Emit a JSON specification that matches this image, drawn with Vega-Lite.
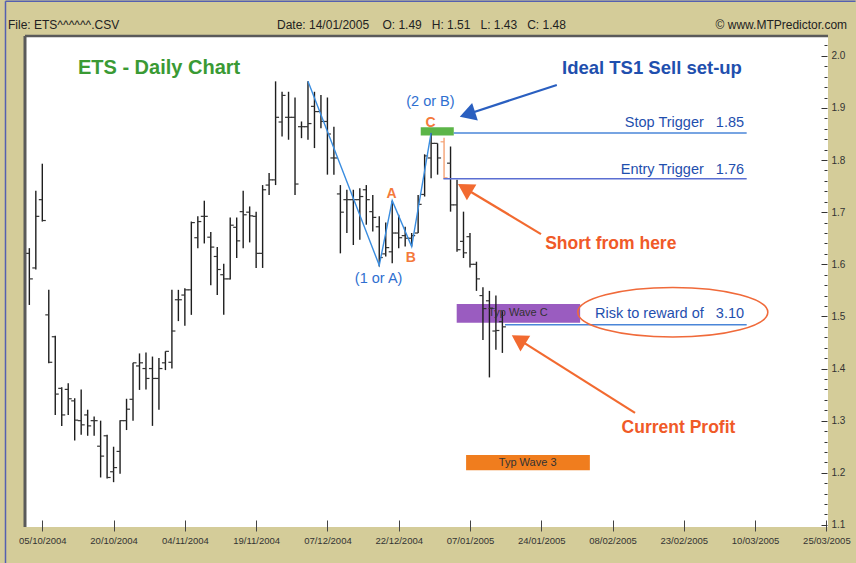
{
  "$schema": "https://vega.github.io/schema/vega-lite/v6.json",
  "width": 803,
  "height": 491,
  "autosize": {"type": "none"},
  "padding": {"left": 25, "top": 36, "right": 28, "bottom": 36},
  "background": "#d4cc99",
  "config": {
    "view": {"fill": "#ffffff", "stroke": null},
    "font": "Liberation Sans",
    "text": {"font": "Liberation Sans", "baseline": "middle"}
  },
  "resolve": {"scale": {"color": "independent"}},
  "datasets": {
    "bars": [
      {"i":-2,"d":"01/10/2004","o":1.621,"h":1.631,"l":1.522,"c":1.572},
      {"i":-1,"d":"04/10/2004","o":1.593,"h":1.741,"l":1.590,"c":1.692},
      {"i":0,"d":"05/10/2004","o":1.724,"h":1.793,"l":1.682,"c":1.684},
      {"i":1,"d":"06/10/2004","o":1.503,"h":1.551,"l":1.410,"c":1.412},
      {"i":2,"d":"07/10/2004","o":1.461,"h":1.463,"l":1.311,"c":1.351},
      {"i":3,"d":"08/10/2004","o":1.362,"h":1.364,"l":1.290,"c":1.311},
      {"i":4,"d":"11/10/2004","o":1.360,"h":1.372,"l":1.311,"c":1.342},
      {"i":5,"d":"12/10/2004","o":1.338,"h":1.343,"l":1.262,"c":1.301},
      {"i":6,"d":"13/10/2004","o":1.300,"h":1.360,"l":1.273,"c":1.292},
      {"i":7,"d":"14/10/2004","o":1.311,"h":1.321,"l":1.271,"c":1.290},
      {"i":8,"d":"15/10/2004","o":1.300,"h":1.308,"l":1.271,"c":1.300},
      {"i":9,"d":"18/10/2004","o":1.251,"h":1.300,"l":1.191,"c":1.232},
      {"i":10,"d":"19/10/2004","o":1.271,"h":1.273,"l":1.189,"c":1.191},
      {"i":11,"d":"20/10/2004","o":1.202,"h":1.250,"l":1.182,"c":1.210},
      {"i":12,"d":"21/10/2004","o":1.241,"h":1.301,"l":1.198,"c":1.300},
      {"i":13,"d":"22/10/2004","o":1.300,"h":1.342,"l":1.282,"c":1.322},
      {"i":14,"d":"25/10/2004","o":1.341,"h":1.411,"l":1.300,"c":1.411},
      {"i":15,"d":"26/10/2004","o":1.405,"h":1.429,"l":1.359,"c":1.411},
      {"i":16,"d":"27/10/2004","o":1.400,"h":1.431,"l":1.360,"c":1.381},
      {"i":17,"d":"28/10/2004","o":1.400,"h":1.423,"l":1.290,"c":1.381},
      {"i":18,"d":"29/10/2004","o":1.381,"h":1.420,"l":1.321,"c":1.400},
      {"i":19,"d":"01/11/2004","o":1.411,"h":1.433,"l":1.397,"c":1.433},
      {"i":20,"d":"02/11/2004","o":1.412,"h":1.551,"l":1.400,"c":1.472},
      {"i":21,"d":"03/11/2004","o":1.532,"h":1.551,"l":1.491,"c":1.532},
      {"i":22,"d":"04/11/2004","o":1.541,"h":1.554,"l":1.482,"c":1.551},
      {"i":23,"d":"05/11/2004","o":1.551,"h":1.682,"l":1.503,"c":1.680},
      {"i":24,"d":"08/11/2004","o":1.651,"h":1.692,"l":1.631,"c":1.682},
      {"i":25,"d":"09/11/2004","o":1.692,"h":1.722,"l":1.640,"c":1.692},
      {"i":26,"d":"10/11/2004","o":1.652,"h":1.662,"l":1.560,"c":1.633},
      {"i":27,"d":"11/11/2004","o":1.615,"h":1.633,"l":1.541,"c":1.590},
      {"i":28,"d":"12/11/2004","o":1.580,"h":1.601,"l":1.503,"c":1.572},
      {"i":29,"d":"15/11/2004","o":1.572,"h":1.690,"l":1.571,"c":1.675},
      {"i":30,"d":"16/11/2004","o":1.671,"h":1.690,"l":1.612,"c":1.645},
      {"i":31,"d":"17/11/2004","o":1.701,"h":1.741,"l":1.631,"c":1.695},
      {"i":32,"d":"18/11/2004","o":1.700,"h":1.711,"l":1.642,"c":1.693},
      {"i":33,"d":"19/11/2004","o":1.692,"h":1.701,"l":1.593,"c":1.621},
      {"i":34,"d":"22/11/2004","o":1.621,"h":1.752,"l":1.593,"c":1.743},
      {"i":35,"d":"23/11/2004","o":1.752,"h":1.775,"l":1.733,"c":1.762},
      {"i":36,"d":"24/11/2004","o":1.762,"h":1.951,"l":1.752,"c":1.882},
      {"i":37,"d":"26/11/2004","o":1.873,"h":1.931,"l":1.845,"c":1.924},
      {"i":38,"d":"29/11/2004","o":1.882,"h":1.931,"l":1.839,"c":1.882},
      {"i":39,"d":"30/11/2004","o":1.882,"h":1.920,"l":1.733,"c":1.754},
      {"i":40,"d":"01/12/2004","o":1.864,"h":1.874,"l":1.842,"c":1.864},
      {"i":41,"d":"02/12/2004","o":1.864,"h":1.951,"l":1.839,"c":1.870},
      {"i":42,"d":"03/12/2004","o":1.903,"h":1.931,"l":1.823,"c":1.893},
      {"i":43,"d":"06/12/2004","o":1.893,"h":1.925,"l":1.861,"c":1.874},
      {"i":44,"d":"07/12/2004","o":1.874,"h":1.920,"l":1.772,"c":1.850},
      {"i":45,"d":"08/12/2004","o":1.804,"h":1.864,"l":1.772,"c":1.804},
      {"i":46,"d":"09/12/2004","o":1.735,"h":1.752,"l":1.621,"c":1.700},
      {"i":47,"d":"10/12/2004","o":1.724,"h":1.743,"l":1.660,"c":1.724},
      {"i":48,"d":"13/12/2004","o":1.724,"h":1.743,"l":1.637,"c":1.724},
      {"i":49,"d":"14/12/2004","o":1.724,"h":1.746,"l":1.647,"c":1.730},
      {"i":50,"d":"15/12/2004","o":1.743,"h":1.752,"l":1.676,"c":1.724},
      {"i":51,"d":"16/12/2004","o":1.701,"h":1.733,"l":1.663,"c":1.690},
      {"i":52,"d":"17/12/2004","o":1.672,"h":1.692,"l":1.596,"c":1.613},
      {"i":53,"d":"20/12/2004","o":1.620,"h":1.680,"l":1.615,"c":1.632},
      {"i":54,"d":"21/12/2004","o":1.624,"h":1.722,"l":1.602,"c":1.660},
      {"i":55,"d":"22/12/2004","o":1.660,"h":1.695,"l":1.631,"c":1.651},
      {"i":56,"d":"23/12/2004","o":1.655,"h":1.672,"l":1.634,"c":1.650},
      {"i":57,"d":"27/12/2004","o":1.650,"h":1.660,"l":1.634,"c":1.655},
      {"i":58,"d":"28/12/2004","o":1.660,"h":1.733,"l":1.660,"c":1.715},
      {"i":59,"d":"29/12/2004","o":1.734,"h":1.811,"l":1.730,"c":1.808},
      {"i":60,"d":"30/12/2004","o":1.804,"h":1.852,"l":1.765,"c":1.832},
      {"i":61,"d":"31/12/2004","o":1.832,"h":1.832,"l":1.772,"c":1.804},
      {"i":62,"d":"03/01/2005","o":1.835,"h":1.843,"l":1.764,"c":1.766,"hl":1},
      {"i":63,"d":"04/01/2005","o":1.794,"h":1.826,"l":1.701,"c":1.714},
      {"i":64,"d":"05/01/2005","o":1.714,"h":1.762,"l":1.624,"c":1.628},
      {"i":65,"d":"06/01/2005","o":1.644,"h":1.701,"l":1.612,"c":1.622},
      {"i":66,"d":"07/01/2005","o":1.653,"h":1.660,"l":1.594,"c":1.600},
      {"i":67,"d":"10/01/2005","o":1.600,"h":1.605,"l":1.549,"c":1.572},
      {"i":68,"d":"11/01/2005","o":1.540,"h":1.556,"l":1.455,"c":1.515},
      {"i":69,"d":"12/01/2005","o":1.530,"h":1.549,"l":1.383,"c":1.516},
      {"i":70,"d":"13/01/2005","o":1.472,"h":1.540,"l":1.436,"c":1.473},
      {"i":71,"d":"14/01/2005","o":1.49,"h":1.51,"l":1.43,"c":1.48}
    ],
    "zig": [
      {"k":0,"i":41,"p":1.951},
      {"k":1,"i":52,"p":1.598},
      {"k":2,"i":54,"p":1.722},
      {"k":3,"i":57,"p":1.634},
      {"k":4,"i":60,"p":1.852}
    ],
    "boxes": [
      {"n":"wavec","i":63.95,"i2":83,"p":1.488,"p2":1.524},
      {"n":"wave3","i":65.4,"i2":84.5,"p":1.205,"p2":1.234},
      {"n":"c","i":58.4,"i2":63.5,"p":1.847,"p2":1.863}
    ],
    "levels": [
      {"n":"stop","i":63.5,"i2":108.7,"p":1.852},
      {"n":"entry","i":61.9,"i2":108.7,"p":1.764},
      {"n":"risk","i":71.4,"i2":108.7,"p":1.484}
    ],
    "arrows": [
      {"n":"blue","i":79.4,"p":1.944,"i2":65.6,"p2":1.888},
      {"n":"short","i":76.96,"p":1.658,"i2":65.2,"p2":1.746},
      {"n":"profit","i":91.47,"p":1.315,"i2":73.5,"p2":1.456}
    ],
    "ell": [{"i":97.3,"p":1.508}],
    "frame": [{"i":-2.67,"p":2.038}],
    "outer": [{"i":-5.68,"i2":125.5,"p":2.1046,"p2":1.027}],
    "txt": [
      {"g":"title","t":"ETS - Daily Chart","i":5.5,"p":1.977},
      {"g":"ideal","t":"Ideal TS1 Sell set-up","i":80.2,"p":1.976},
      {"g":"wave","t":"(2 or B)","i":59.9,"p":1.911},
      {"g":"wave","t":"(1 or A)","i":51.9,"p":1.571},
      {"g":"abc","t":"C","i":59.9,"p":1.872},
      {"g":"abc","t":"A","i":53.9,"p":1.735},
      {"g":"abc","t":"B","i":56.85,"p":1.612},
      {"g":"trig","t":"Stop Trigger \u00a0 1.85","i":108.3,"p":1.871},
      {"g":"trig","t":"Entry Trigger \u00a0 1.76","i":108.3,"p":1.781},
      {"g":"trig","t":"Risk to reward of \u00a0 3.10","i":108.3,"p":1.505},
      {"g":"call","t":"Short from here","i":77.6,"p":1.639},
      {"g":"call","t":"Current Profit","i":89.4,"p":1.286},
      {"g":"box","t":"Typ Wave C","i":73.4,"p":1.507},
      {"g":"box","t":"Typ Wave 3","i":74.9,"p":1.219},
      {"g":"hdrl","t":"File: ETS^^^^^^.CSV","i":-5.29,"p":2.059},
      {"g":"hdrl","t":"Date: 14/01/2005 \u00a0 \u00a0O: 1.49 \u00a0 H: 1.51 \u00a0 L: 1.43 \u00a0 C: 1.48","i":36.22,"p":2.059},
      {"g":"hdrr","t":"\u00a9 www.MTPredictor.com","i":124.2,"p":2.059}
    ]
  },
  "layer": [
    {
      "data": {"name": "boxes"},
      "mark": {"type": "rect"},
      "encoding": {
        "x": {"field": "i", "type": "quantitative", "scale": {"domain": [-2.67, 121.25], "nice": false, "zero": false},
          "axis": {
            "orient": "bottom", "title": null, "grid": false, "domain": false,
            "values": [0, 11, 22, 33, 44, 55, 66, 77, 88, 99, 110, 121], "tickCount": 200,
            "labelExpr": "['05/10/2004','20/10/2004','04/11/2004','19/11/2004','07/12/2004','22/12/2004','07/01/2005','24/01/2005','08/02/2005','23/02/2005','10/03/2005','25/03/2005'][round(datum.value/11)]",
            "offset": -7, "tickSize": 11, "tickColor": "#444", "tickWidth": 1,
            "labelPadding": 4, "labelFont": "Liberation Sans", "labelFontSize": 9.5, "labelColor": "#333",
            "labelFlush": false, "labelOverlap": false
          }
        },
        "x2": {"field": "i2"},
        "y": {"field": "p", "type": "quantitative", "scale": {"domain": [1.096, 2.038], "nice": false, "zero": false},
          "axis": {
            "orient": "right", "title": null, "grid": false, "domain": false,
            "values": [1.1,1.12,1.14,1.16,1.18,1.2,1.22,1.24,1.26,1.28,1.3,1.32,1.34,1.36,1.38,1.4,1.42,1.44,1.46,1.48,1.5,1.52,1.54,1.56,1.58,1.6,1.62,1.64,1.66,1.68,1.7,1.72,1.74,1.76,1.78,1.8,1.82,1.84,1.86,1.88,1.9,1.92,1.94,1.96,1.98,2.0,2.02],
            "tickCount": 200,
            "labelExpr": "abs(datum.value*10 - round(datum.value*10)) < 0.01 ? format(datum.value, '.1f') : ''",
            "tickSize": {"condition": {"test": "abs(datum.value*10 - round(datum.value*10)) < 0.01", "value": -6}, "value": -3},
            "offset": -1, "tickColor": "#333", "tickWidth": 1,
            "labelPadding": 10, "labelFont": "Liberation Sans", "labelFontSize": 10, "labelColor": "#333",
            "labelFlush": false, "labelOverlap": false, "labelBaseline": "middle"
          }
        },
        "y2": {"field": "p2"},
        "color": {"field": "n", "type": "nominal", "scale": {"domain": ["wavec", "wave3", "c"], "range": ["#9a5cc0", "#f07d1e", "#5cb548"]}, "legend": null}
      }
    },
    {
      "data": {"name": "bars"},
      "mark": {"type": "rule", "strokeWidth": 1.4},
      "encoding": {
        "x": {"field": "i", "type": "quantitative", "scale": {"domain": [-2.67, 121.25], "nice": false, "zero": false}},
        "y": {"field": "l", "type": "quantitative", "scale": {"domain": [1.096, 2.038], "nice": false, "zero": false}},
        "y2": {"field": "h"},
        "color": {"condition": {"test": "datum.hl === 1", "value": "#f5a274"}, "value": "#1e1e1e"}
      }
    },
    {
      "data": {"name": "bars"},
      "mark": {"type": "rule", "strokeWidth": 1.2, "x2Offset": -3.5},
      "encoding": {
        "x": {"field": "i", "type": "quantitative", "scale": {"domain": [-2.67, 121.25], "nice": false, "zero": false}},
        "x2": {"field": "i"},
        "y": {"field": "o", "type": "quantitative", "scale": {"domain": [1.096, 2.038], "nice": false, "zero": false}},
        "color": {"condition": {"test": "datum.hl === 1", "value": "#f5a274"}, "value": "#333333"}
      }
    },
    {
      "data": {"name": "bars"},
      "mark": {"type": "rule", "strokeWidth": 1.2, "x2Offset": 3.5},
      "encoding": {
        "x": {"field": "i", "type": "quantitative", "scale": {"domain": [-2.67, 121.25], "nice": false, "zero": false}},
        "x2": {"field": "i"},
        "y": {"field": "c", "type": "quantitative", "scale": {"domain": [1.096, 2.038], "nice": false, "zero": false}},
        "color": {"condition": {"test": "datum.hl === 1", "value": "#f5a274"}, "value": "#333333"}
      }
    },
    {
      "data": {"name": "zig"},
      "mark": {"type": "line", "strokeWidth": 1.4, "color": "#3a8de0"},
      "encoding": {
        "x": {"field": "i", "type": "quantitative", "scale": {"domain": [-2.67, 121.25], "nice": false, "zero": false}},
        "y": {"field": "p", "type": "quantitative", "scale": {"domain": [1.096, 2.038], "nice": false, "zero": false}},
        "order": {"field": "k"}
      }
    },
    {
      "data": {"name": "levels"},
      "mark": {"type": "rule", "strokeWidth": 1.5},
      "encoding": {
        "x": {"field": "i", "type": "quantitative", "scale": {"domain": [-2.67, 121.25], "nice": false, "zero": false}},
        "x2": {"field": "i2"},
        "y": {"field": "p", "type": "quantitative", "scale": {"domain": [1.096, 2.038], "nice": false, "zero": false}},
        "color": {"field": "n", "type": "nominal", "scale": {"domain": ["stop", "entry", "risk"], "range": ["#4a86d8", "#5a6ed2", "#4a86d8"]}, "legend": null}
      }
    },
    {
      "data": {"name": "arrows"},
      "mark": {"type": "rule", "strokeWidth": 2.2},
      "encoding": {
        "x": {"field": "i", "type": "quantitative", "scale": {"domain": [-2.67, 121.25], "nice": false, "zero": false}},
        "x2": {"field": "i2"},
        "y": {"field": "p", "type": "quantitative", "scale": {"domain": [1.096, 2.038], "nice": false, "zero": false}},
        "y2": {"field": "p2"},
        "color": {"field": "n", "type": "nominal", "scale": {"domain": ["blue", "short", "profit"], "range": ["#2a5fc0", "#f26a30", "#f26a30"]}, "legend": null}
      }
    },
    {
      "data": {"name": "arrows"},
      "transform": [{"filter": "datum.n === 'blue'"}],
      "mark": {"type": "point", "shape": "triangle-up", "filled": true, "size": 340, "angle": 252, "color": "#2a5fc0", "opacity": 1},
      "encoding": {
        "x": {"field": "i2", "type": "quantitative", "scale": {"domain": [-2.67, 121.25], "nice": false, "zero": false}},
        "y": {"field": "p2", "type": "quantitative", "scale": {"domain": [1.096, 2.038], "nice": false, "zero": false}}
      }
    },
    {
      "data": {"name": "arrows"},
      "transform": [{"filter": "datum.n === 'short'"}],
      "mark": {"type": "point", "shape": "triangle-up", "filled": true, "size": 340, "angle": 301, "color": "#f26a30", "opacity": 1},
      "encoding": {
        "x": {"field": "i2", "type": "quantitative", "scale": {"domain": [-2.67, 121.25], "nice": false, "zero": false}},
        "y": {"field": "p2", "type": "quantitative", "scale": {"domain": [1.096, 2.038], "nice": false, "zero": false}}
      }
    },
    {
      "data": {"name": "arrows"},
      "transform": [{"filter": "datum.n === 'profit'"}],
      "mark": {"type": "point", "shape": "triangle-up", "filled": true, "size": 340, "angle": 302, "color": "#f26a30", "opacity": 1},
      "encoding": {
        "x": {"field": "i2", "type": "quantitative", "scale": {"domain": [-2.67, 121.25], "nice": false, "zero": false}},
        "y": {"field": "p2", "type": "quantitative", "scale": {"domain": [1.096, 2.038], "nice": false, "zero": false}}
      }
    },
    {
      "data": {"name": "ell"},
      "mark": {"type": "point", "shape": "M-1,0A1,0.261,0,1,1,1,0A1,0.261,0,1,1,-1,0Z", "size": 36100, "filled": false, "stroke": "#f06a3a", "strokeWidth": 1.6, "opacity": 1},
      "encoding": {
        "x": {"field": "i", "type": "quantitative", "scale": {"domain": [-2.67, 121.25], "nice": false, "zero": false}},
        "y": {"field": "p", "type": "quantitative", "scale": {"domain": [1.096, 2.038], "nice": false, "zero": false}}
      }
    },
    {
      "data": {"name": "txt"},
      "transform": [{"filter": "datum.g === 'title'"}],
      "mark": {"type": "text", "align": "left", "fontSize": 20, "fontWeight": "bold", "color": "#3a9a34"},
      "encoding": {
        "x": {"field": "i", "type": "quantitative", "scale": {"domain": [-2.67, 121.25], "nice": false, "zero": false}},
        "y": {"field": "p", "type": "quantitative", "scale": {"domain": [1.096, 2.038], "nice": false, "zero": false}},
        "text": {"field": "t"}
      }
    },
    {
      "data": {"name": "txt"},
      "transform": [{"filter": "datum.g === 'ideal'"}],
      "mark": {"type": "text", "align": "left", "fontSize": 18.5, "fontWeight": "bold", "color": "#1f4fae"},
      "encoding": {
        "x": {"field": "i", "type": "quantitative", "scale": {"domain": [-2.67, 121.25], "nice": false, "zero": false}},
        "y": {"field": "p", "type": "quantitative", "scale": {"domain": [1.096, 2.038], "nice": false, "zero": false}},
        "text": {"field": "t"}
      }
    },
    {
      "data": {"name": "txt"},
      "transform": [{"filter": "datum.g === 'wave'"}],
      "mark": {"type": "text", "align": "center", "fontSize": 14.5, "color": "#2f6fd0"},
      "encoding": {
        "x": {"field": "i", "type": "quantitative", "scale": {"domain": [-2.67, 121.25], "nice": false, "zero": false}},
        "y": {"field": "p", "type": "quantitative", "scale": {"domain": [1.096, 2.038], "nice": false, "zero": false}},
        "text": {"field": "t"}
      }
    },
    {
      "data": {"name": "txt"},
      "transform": [{"filter": "datum.g === 'abc'"}],
      "mark": {"type": "text", "align": "center", "fontSize": 14, "fontWeight": "bold", "color": "#f4793b"},
      "encoding": {
        "x": {"field": "i", "type": "quantitative", "scale": {"domain": [-2.67, 121.25], "nice": false, "zero": false}},
        "y": {"field": "p", "type": "quantitative", "scale": {"domain": [1.096, 2.038], "nice": false, "zero": false}},
        "text": {"field": "t"}
      }
    },
    {
      "data": {"name": "txt"},
      "transform": [{"filter": "datum.g === 'trig'"}],
      "mark": {"type": "text", "align": "right", "fontSize": 14.5, "color": "#1f4fae"},
      "encoding": {
        "x": {"field": "i", "type": "quantitative", "scale": {"domain": [-2.67, 121.25], "nice": false, "zero": false}},
        "y": {"field": "p", "type": "quantitative", "scale": {"domain": [1.096, 2.038], "nice": false, "zero": false}},
        "text": {"field": "t"}
      }
    },
    {
      "data": {"name": "txt"},
      "transform": [{"filter": "datum.g === 'call'"}],
      "mark": {"type": "text", "align": "left", "fontSize": 17.5, "fontWeight": "bold", "color": "#f05a28"},
      "encoding": {
        "x": {"field": "i", "type": "quantitative", "scale": {"domain": [-2.67, 121.25], "nice": false, "zero": false}},
        "y": {"field": "p", "type": "quantitative", "scale": {"domain": [1.096, 2.038], "nice": false, "zero": false}},
        "text": {"field": "t"}
      }
    },
    {
      "data": {"name": "txt"},
      "transform": [{"filter": "datum.g === 'box'"}],
      "mark": {"type": "text", "align": "center", "fontSize": 11, "color": "#333333"},
      "encoding": {
        "x": {"field": "i", "type": "quantitative", "scale": {"domain": [-2.67, 121.25], "nice": false, "zero": false}},
        "y": {"field": "p", "type": "quantitative", "scale": {"domain": [1.096, 2.038], "nice": false, "zero": false}},
        "text": {"field": "t"}
      }
    },
    {
      "data": {"name": "txt"},
      "transform": [{"filter": "datum.g === 'hdrl'"}],
      "mark": {"type": "text", "align": "left", "fontSize": 12, "color": "#222222"},
      "encoding": {
        "x": {"field": "i", "type": "quantitative", "scale": {"domain": [-2.67, 121.25], "nice": false, "zero": false}},
        "y": {"field": "p", "type": "quantitative", "scale": {"domain": [1.096, 2.038], "nice": false, "zero": false}},
        "text": {"field": "t"}
      }
    },
    {
      "data": {"name": "txt"},
      "transform": [{"filter": "datum.g === 'hdrr'"}],
      "mark": {"type": "text", "align": "right", "fontSize": 12, "color": "#222222"},
      "encoding": {
        "x": {"field": "i", "type": "quantitative", "scale": {"domain": [-2.67, 121.25], "nice": false, "zero": false}},
        "y": {"field": "p", "type": "quantitative", "scale": {"domain": [1.096, 2.038], "nice": false, "zero": false}},
        "text": {"field": "t"}
      }
    },
    {
      "data": {"name": "frame"},
      "mark": {"type": "rule", "strokeWidth": 3, "color": "#5a5a5a"},
      "encoding": {
        "x": {"field": "i", "type": "quantitative", "scale": {"domain": [-2.67, 121.25], "nice": false, "zero": false}}
      }
    },
    {
      "data": {"name": "frame"},
      "mark": {"type": "rule", "strokeWidth": 2.5, "color": "#5a5a5a"},
      "encoding": {
        "y": {"field": "p", "type": "quantitative", "scale": {"domain": [1.096, 2.038], "nice": false, "zero": false}}
      }
    },
    {
      "data": {"name": "outer"},
      "mark": {"type": "rule", "strokeWidth": 1.5, "color": "#5560b0"},
      "encoding": {
        "x": {"field": "i", "type": "quantitative", "scale": {"domain": [-2.67, 121.25], "nice": false, "zero": false}},
        "y": {"field": "p", "type": "quantitative", "scale": {"domain": [1.096, 2.038], "nice": false, "zero": false}},
        "y2": {"field": "p2"}
      }
    },
    {
      "data": {"name": "outer"},
      "mark": {"type": "rule", "strokeWidth": 1.5, "color": "#5560b0"},
      "encoding": {
        "x": {"field": "i", "type": "quantitative", "scale": {"domain": [-2.67, 121.25], "nice": false, "zero": false}},
        "x2": {"field": "i2"},
        "y": {"field": "p", "type": "quantitative", "scale": {"domain": [1.096, 2.038], "nice": false, "zero": false}}
      }
    }
  ]
}
